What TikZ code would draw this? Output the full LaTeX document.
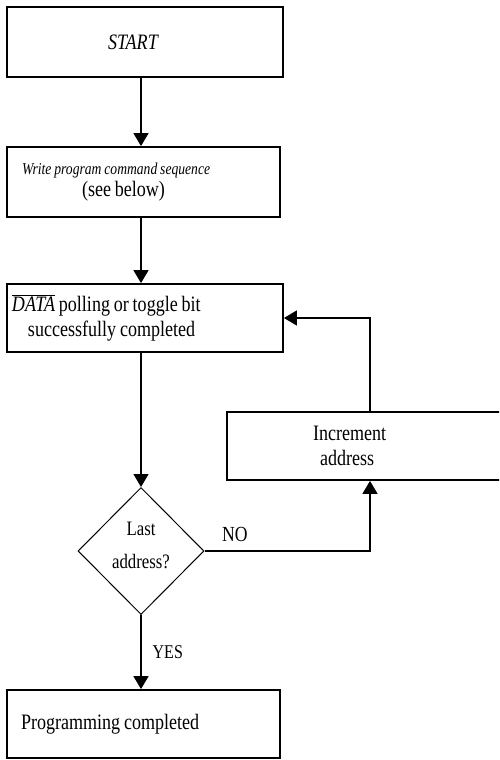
\documentclass[tikz,border=0pt]{standalone}
\usepackage{fontspec}
\setmainfont{Liberation Serif}[FakeStretch=0.82, WordSpace=0.85]
\usetikzlibrary{positioning,shapes.geometric,arrows.meta}
\tikzset{
  box/.style={draw, line width=1.8pt, minimum width=273pt, minimum height=69pt, inner sep=0pt, align=flush left, font=\fontsize{22}{25}\selectfont},
  decide/.style={diamond, draw, line width=1pt, minimum width=126pt, minimum height=127pt, inner sep=0pt, align=center, text depth=12pt, font=\fontsize{20.5}{33}\selectfont},
  flow/.style={line width=1.4pt, -{Triangle[length=13pt,width=15pt]}},
  lab/.style={inner sep=0pt, font=\fontsize{21.5}{24}\selectfont},
}

\begin{document}
\begin{tikzpicture}[x=1pt,y=-1pt]
  \useasboundingbox (0,0) rectangle (499,760);
  \clip (0,0) rectangle (499,760);

  \node[box, minimum width=276pt, minimum height=70pt, text width=74pt] (start) at (145,42) {\itshape START};
  \node[box, minimum height=70pt, text width=243pt] (write) at (143.5,182)
    {{\fontsize{16.6}{18}\selectfont\itshape Write program command sequence}\\[-3pt]\hspace*{60pt}(see below)};
  \node[box, minimum width=276pt, minimum height=68pt, text width=266pt] (poll) at (145,318)
    {$\overline{\hbox{\itshape DATA}}$ polling or toggle bit\\\hspace*{16pt}successfully completed};
  \node[box, minimum width=286pt, minimum height=68pt, text width=114pt] (incr) at (370,446)
    {Increment\\\hspace*{7pt}address};
  \node[decide] (last) at (141,551) {Last\\address?};
  \node[box, minimum height=68pt, text width=245pt] (done) at (143.5,724) {Programming completed};

  \draw[flow] (start.south -| last.north) -- (write.north -| last.north);
  \draw[flow] (write.south -| last.north) -- (poll.north -| last.north);
  \draw[flow] (poll.south -| last.north) -- (last.north);
  \draw[flow] (last.east) -| (incr.south) node[lab, pos=0, above right=9pt and 17pt] {NO};
  \draw[flow] (incr.north) |- (poll.east);
  \draw[flow] (last.south) -- (done.north -| last.south) node[lab, midway, right=11pt, font=\fontsize{19.5}{22}\selectfont] {YES};
\end{tikzpicture}
\end{document}
